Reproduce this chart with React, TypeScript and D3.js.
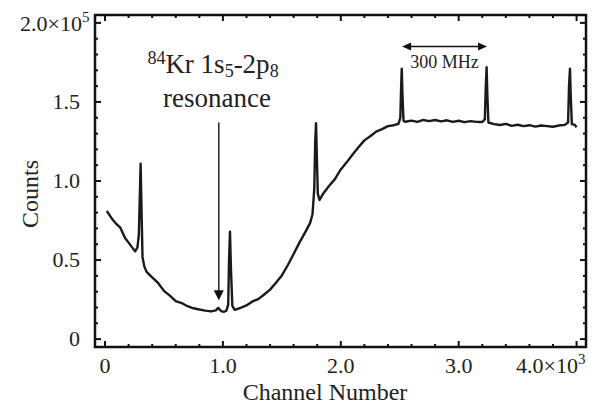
import React, { useEffect, useRef } from 'react';
import * as d3 from 'd3';

// spectrum: channel number vs counts
const channel = [
  15, 60, 100, 130, 170, 200, 230, 255, 275, 287, 295, 302, 308, 318, 333, 353,
  400, 450, 500, 550, 600, 650, 700, 750, 800, 850, 900, 940, 960, 975, 990, 1010, 1030,
  1045, 1052, 1060, 1068, 1080, 1100,
  1150, 1200, 1250, 1300, 1350, 1400, 1450, 1500, 1550, 1600, 1650, 1700, 1740, 1760, 1775, 1783, 1790, 1797, 1805, 1820,
  1850, 1900, 1950, 2000, 2050, 2100, 2150, 2200, 2250, 2300, 2350, 2400, 2450, 2490,
  2505, 2512, 2517, 2523, 2532, 2545,
  2600, 2650, 2700, 2750, 2800, 2850, 2900, 2950, 3000, 3050, 3100, 3150, 3200,
  3222, 3230, 3237, 3243, 3252,
  3300, 3350, 3400, 3450, 3500, 3550, 3600, 3650, 3700, 3750, 3800, 3850, 3900,
  3928, 3936, 3944, 3950, 3960, 3985, 4000,
];
const counts = [
  81000, 76000, 72500, 70500, 64000, 61000, 58000, 55500, 58000, 66000, 90000, 111000, 88000, 52000, 46000, 42500,
  39000, 35500, 30500, 27500, 24000, 22800, 20800, 19500, 18700, 18000, 17500, 18200, 19800, 18500, 17500, 17300, 18000,
  22000, 50000, 68000, 45000, 21000, 18500,
  19800, 21300, 23800, 25300, 28200, 31300, 35700, 40300, 46700, 53800, 61200, 67800, 73500, 79000, 95000, 125000, 136500, 115000, 92000, 88000,
  92000, 96800, 101200, 107300, 111800, 116800, 121300, 125700, 128300, 131200, 132800, 134700, 135300, 136200,
  140000, 160000, 171000, 155000, 138000, 137500,
  138200, 137400, 138600, 137900, 138600, 137700, 138400, 137400, 138100, 137200, 137900, 137400, 137300,
  139000, 160000, 172000, 155000, 137000,
  136000, 135400, 136100, 134900, 135600, 134700, 135300, 134400, 135100, 134700, 134300, 135100, 135500,
  137000, 160000, 171000, 155000, 136000, 135500, 134000,
];

const xMajor = [0, 1000, 2000, 3000, 4000];
const xLabels = ['0', '1.0', '2.0', '3.0', '4.0×10'];
const yMajor = [0, 50000, 100000, 150000, 200000];
const yLabels = ['0', '0.5', '1.0', '1.5', '2.0×10'];

const FONT = '"Times New Roman", "Liberation Serif", "DejaVu Serif", Times, serif';

function App() {
  const svgRef = useRef(null);

  useEffect(() => {
    const width = 609;
    const height = 407;
    const svg = d3.select(svgRef.current);
    svg.selectAll('*').remove();
    svg.attr('width', width).attr('height', height).style('font-family', FONT);

    const x = d3.scaleLinear().domain([-85, 4080]).range([95, 586]);
    const y = d3.scaleLinear().domain([-5000, 205000]).range([347, 15]);

    const xMinor = d3.range(0, 4001, 200);
    const yMinor = d3.range(0, 200001, 10000);

    const tickLines = (g, vals, major, isX, side) => {
      vals.forEach((v) => {
        const len = major.includes(v) ? 6 : 3;
        if (isX) {
          const px = x(v);
          const y0 = side === 'bottom' ? 347 : 15;
          const dir = side === 'bottom' ? -1 : 1;
          g.append('line').attr('x1', px).attr('x2', px).attr('y1', y0).attr('y2', y0 + dir * len);
        } else {
          const py = y(v);
          const x0 = side === 'left' ? 95 : 586;
          const dir = side === 'left' ? 1 : -1;
          g.append('line').attr('x1', x0).attr('x2', x0 + dir * len).attr('y1', py).attr('y2', py);
        }
      });
    };

    const ticks = svg.append('g').attr('stroke', '#111').attr('stroke-width', 2);
    tickLines(ticks, xMinor, xMajor, true, 'bottom');
    tickLines(ticks, xMinor, xMajor, true, 'top');
    tickLines(ticks, yMinor, yMajor, false, 'left');
    tickLines(ticks, yMinor, yMajor, false, 'right');

    // data trace
    const line = d3.line()
      .x((d) => x(d[0]))
      .y((d) => y(d[1]));
    svg.append('path')
      .datum(channel.map((c, i) => [c, counts[i]]))
      .attr('d', line)
      .attr('fill', 'none')
      .attr('stroke', '#1a1a1a')
      .attr('stroke-width', 2.4)
      .attr('stroke-linejoin', 'round');

    // frame
    svg.append('rect')
      .attr('x', 95).attr('y', 15).attr('width', 491).attr('height', 332)
      .attr('fill', 'none').attr('stroke', '#111').attr('stroke-width', 2.5);

    // tick labels
    const lab = svg.append('g').style('font-family', FONT).attr('font-size', 22).attr('fill', '#222');
    xMajor.forEach((v, i) => {
      if (i === xMajor.length - 1) {
        lab.append('text').attr('x', 578).attr('y', 373).attr('text-anchor', 'end').text(xLabels[i]);
        lab.append('text').attr('x', 578).attr('y', 364).attr('font-size', 15).text('3');
      } else {
        lab.append('text').attr('x', x(v)).attr('y', 373).attr('text-anchor', 'middle').text(xLabels[i]);
      }
    });
    yMajor.forEach((v, i) => {
      if (i === yMajor.length - 1) {
        lab.append('text').attr('x', 82).attr('y', y(v) + 8).attr('text-anchor', 'end').text(yLabels[i]);
        lab.append('text').attr('x', 82).attr('y', y(v) - 1).attr('font-size', 15).text('5');
      } else {
        lab.append('text').attr('x', 80).attr('y', y(v) + 7).attr('text-anchor', 'end').text(yLabels[i]);
      }
    });

    // axis titles
    lab.append('text')
      .attr('transform', 'translate(38,194) rotate(-90)')
      .attr('text-anchor', 'middle')
      .attr('font-size', 24)
      .text('Counts');
    lab.append('text')
      .attr('x', 325).attr('y', 400)
      .attr('text-anchor', 'middle')
      .attr('font-size', 24)
      .text('Channel Number');

    // resonance annotation
    const t1 = lab.append('text').attr('x', 213).attr('y', 73).attr('text-anchor', 'middle').attr('font-size', 27);
    t1.append('tspan').attr('font-size', 18).attr('dy', -9).text('84');
    t1.append('tspan').attr('dy', 9).text('Kr 1s');
    t1.append('tspan').attr('font-size', 18).attr('dy', 4).text('5');
    t1.append('tspan').attr('dy', -4).text('-2p');
    t1.append('tspan').attr('font-size', 18).attr('dy', 4).text('8');
    lab.append('text').attr('x', 217).attr('y', 107).attr('text-anchor', 'middle').attr('font-size', 27).text('resonance');

    const ax = x(965);
    const aTop = y(137000);
    const aTip = y(24500);
    svg.append('line').attr('x1', ax).attr('x2', ax).attr('y1', aTop).attr('y2', aTip - 9)
      .attr('stroke', '#222').attr('stroke-width', 1.5);
    svg.append('path')
      .attr('d', `M${ax - 5},${aTip - 10}L${ax + 5},${aTip - 10}L${ax},${aTip}Z`)
      .attr('fill', '#111');

    // 300 MHz spacing marker
    const mx0 = x(2520);
    const mx1 = x(3240);
    const my = y(185000);
    svg.append('line').attr('x1', mx0 + 6).attr('x2', mx1 - 6).attr('y1', my).attr('y2', my)
      .attr('stroke', '#111').attr('stroke-width', 1.5);
    svg.append('path')
      .attr('d', `M${mx0},${my}L${mx0 + 9},${my - 4}L${mx0 + 9},${my + 4}Z M${mx1},${my}L${mx1 - 9},${my - 4}L${mx1 - 9},${my + 4}Z`)
      .attr('fill', '#111');
    lab.append('text')
      .attr('x', (mx0 + mx1) / 2).attr('y', y(171500))
      .attr('text-anchor', 'middle')
      .attr('font-size', 18)
      .text('300 MHz');
  }, []);

  return (
    <svg ref={svgRef} style={{ position: 'absolute', left: 0, top: 0, background: '#fff' }}></svg>
  );
}

export default App;
